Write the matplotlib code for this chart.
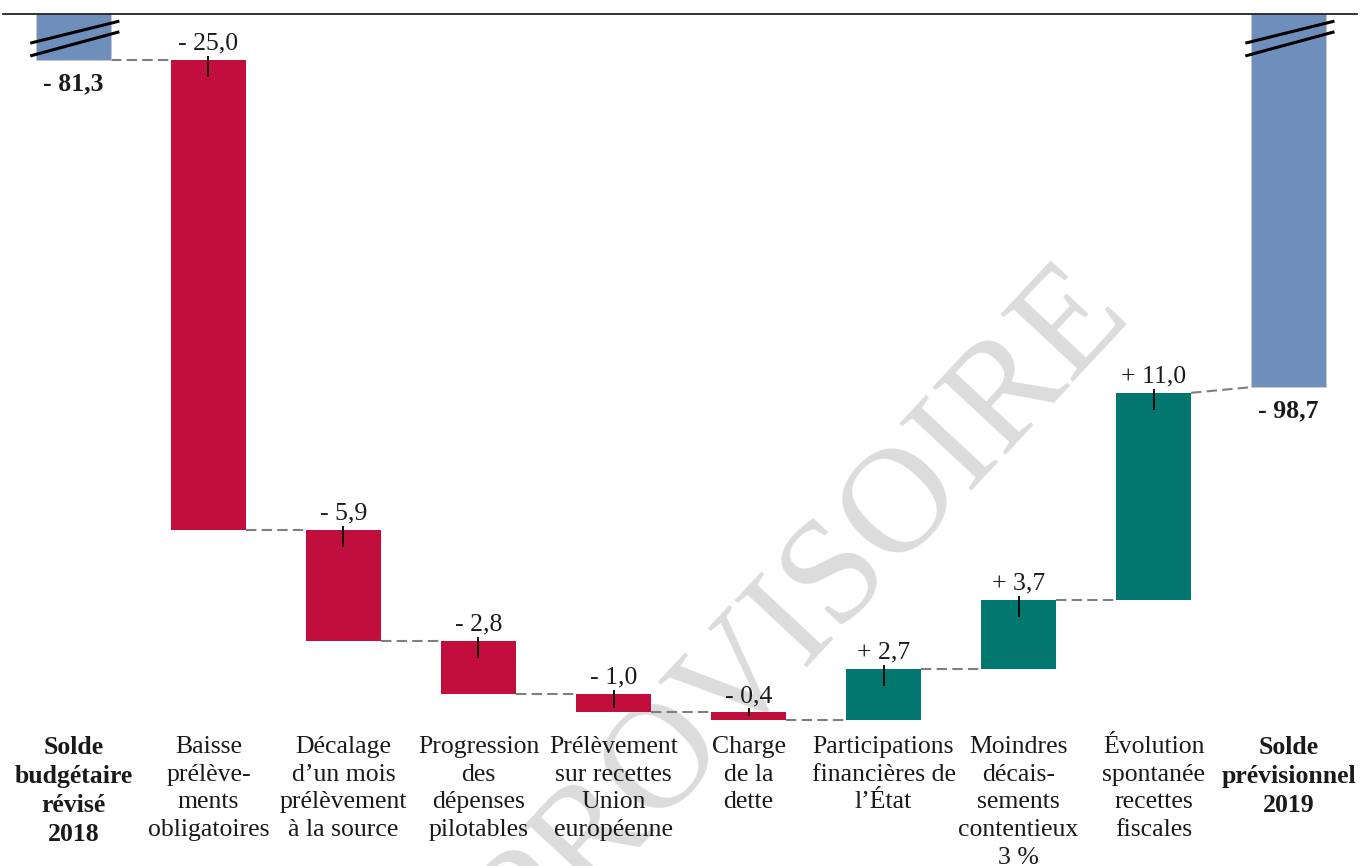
import matplotlib
matplotlib.use("Agg")
import matplotlib.pyplot as plt
import matplotlib.transforms as mtransforms

plt.rcParams['font.family'] = ['Liberation Serif', 'DejaVu Serif']

# ---------------- data ----------------
categories = [
    "Solde\nbudgétaire\nrévisé\n2018",
    "Baisse\nprélève-\nments\nobligatoires",
    "Décalage\nd\u2019un mois\nprélèvement\nà la source",
    "Progression\ndes\ndépenses\npilotables",
    "Prélèvement\nsur recettes\nUnion\neuropéenne",
    "Charge\nde la\ndette",
    "Participations\nfinancières de\nl\u2019État",
    "Moindres\ndécais-\nsements\ncontentieux\n3 %",
    "Évolution\nspontanée\nrecettes\nfiscales",
    "Solde\nprévisionnel\n2019",
]
start_value = -81.3
deltas = [-25.0, -5.9, -2.8, -1.0, -0.4, 2.7, 3.7, 11.0]
end_value = -98.7
start_label = "- 81,3"
end_label = "- 98,7"
delta_labels = ["- 25,0", "- 5,9", "- 2,8", "- 1,0", "- 0,4", "+ 2,7", "+ 3,7", "+ 11,0"]

# ---------------- style ----------------
BLUE = "#6E8EBB"
RED = "#C10E3C"
TEAL = "#02776F"
GREY = "#7F7F7F"
TXT = "#1A1A1A"
FS = 18.5

fig = plt.figure(figsize=(13.6, 8.66), dpi=100)
ax = fig.add_axes([0.0022, 1 - 725 / 866, 0.9956, (725 - 14) / 866])
ymin, ymax = -116.67, -78.85
ax.set_ylim(ymin, ymax)
ax.set_xlim(-0.522, 9.507)
ax.patch.set_alpha(0)

ax_h_px = (725 - 14)
ppu = ax_h_px / (ymax - ymin)  # pixels per unit

W = 0.556
n = len(categories)
xs = list(range(n))

# cumulative levels
levels = [start_value]
for d in deltas:
    levels.append(levels[-1] + d)

# total bars (broken, extend beyond top)
for xi, val in ((0, start_value), (n - 1, end_value)):
    ax.bar(xi, ymax + 5 - val, bottom=val, width=W, color=BLUE,
           edgecolor="#C8C8C8", linewidth=0.6, zorder=2)

# delta bars
for i, d in enumerate(deltas):
    xi = i + 1
    lo = min(levels[i], levels[i + 1])
    ax.bar(xi, abs(d), bottom=lo, width=W, color=RED if d < 0 else TEAL,
           linewidth=0, zorder=2)

# connectors: end of bar i -> start of bar i+1
bar_ends = levels[:]                       # bars 0..8
next_starts = levels[:-1] + [end_value]    # starts of bars 1..9
for i in range(n - 1):
    ax.plot([i + W / 2, i + 1 - W / 2], [bar_ends[i], next_starts[i]],
            color=GREY, lw=1.5, ls=(0, (5, 2.5)), zorder=1)

# little vertical marks at bar tops + value labels
for i, d in enumerate(deltas):
    xi = i + 1
    top = max(levels[i], levels[i + 1])
    h_px = abs(d) * ppu
    down = min(17, max(h_px - 4, 3))
    ax.plot([xi, xi], [top + 4 / ppu, top - down / ppu], color="black",
            lw=1.3, zorder=3, solid_capstyle="butt")
    ax.annotate(delta_labels[i], xy=(xi, top), xytext=(0, 7.5),
                textcoords="offset points", ha="center", va="baseline",
                fontsize=FS, color=TXT, zorder=4)

# bold total labels
for xi, val, lab in ((0, start_value, start_label), (n - 1, end_value, end_label)):
    ax.annotate(lab, xy=(xi, val), xytext=(0, -21.5), textcoords="offset points",
                ha="center", va="baseline", fontsize=FS, fontweight="bold",
                color=TXT, zorder=4)

# break marks
bt = mtransforms.blended_transform_factory(ax.transData, ax.transAxes)
for xi in (0, n - 1):
    for y1, y2 in ((0.959, 0.990), (0.941, 0.975)):
        ax.plot([xi - 0.32, xi + 0.34], [y1, y2], transform=bt, color="black",
                lw=2.2, zorder=5, clip_on=False, solid_capstyle="butt")

# category labels
ax.set_xticks(xs)
ax.set_xticklabels(categories, fontsize=FS, color=TXT, linespacing=1.33,
                   multialignment="center")
for i, t in enumerate(ax.get_xticklabels()):
    if i in (0, n - 1):
        t.set_fontweight("bold")
ax.tick_params(axis="x", length=0, pad=8)
ax.set_yticks([])

for s in ("left", "right", "bottom"):
    ax.spines[s].set_visible(False)
ax.spines["top"].set_color("#222222")
ax.spines["top"].set_linewidth(1.3)

# watermark
ax.text(805 / 1360, 1 - 612 / 866, "PROVISOIRE", transform=fig.transFigure,
        fontsize=108, color="#DCDCDC", rotation=47, ha="center", va="center",
        rotation_mode="anchor", zorder=0, clip_on=False)

fig.savefig("out.png", dpi=100)
